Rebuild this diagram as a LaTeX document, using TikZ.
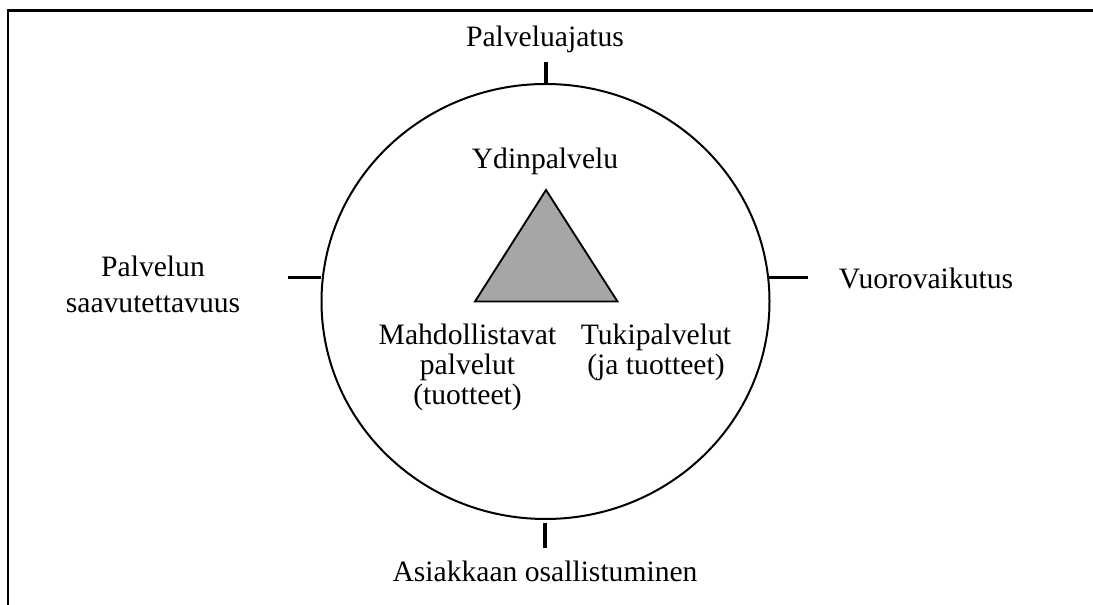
\documentclass[tikz,border=0pt]{standalone}
\usepackage{fontspec}
\usetikzlibrary{shapes.geometric}
\setmainfont{Liberation Serif}
\begin{document}
\begin{tikzpicture}[x=0.75pt,y=-0.75pt,
  lbl/.style={inner sep=0pt,anchor=base,align=center,font=\fontsize{22.2}{22.5}\selectfont},
  lblwide/.style={lbl,font=\fontsize{22.2}{27.5}\selectfont},
  tick/.style={line width=2.6pt},
  frameline/.style={line width=1.6pt}]
\useasboundingbox (0,0) rectangle (1093,605);
% frame (top and left edges)
\coordinate (fbl) at (8,605);
\coordinate (ftl) at (8,10.5);
\coordinate (ftr) at (1093,10.5);
\draw[frameline] (fbl) -- (ftl) -- (ftr);
% outer circle
\node[draw,line width=1.5pt,ellipse,minimum width=336pt,minimum height=326.25pt,inner sep=0pt] (ring) at (545.5,301.5) {};
% ticks
\coordinate (tN1) at (546,62);  \coordinate (tN2) at (546,84);
\coordinate (tS1) at (545,523); \coordinate (tS2) at (545,548);
\coordinate (tW1) at (288,277.5); \coordinate (tW2) at (321,277.5);
\coordinate (tE1) at (769,277.5); \coordinate (tE2) at (808,277.5);
\draw[tick] (tN1) -- (tN2);
\draw[tick] (tS1) -- (tS2);
\draw[tick] (tW1) -- (tW2);
\draw[tick] (tE1) -- (tE2);
% central triangle
\coordinate (apex) at (546,190);
\coordinate (bl) at (475,301.5);
\coordinate (br) at (617.5,301.5);
\filldraw[fill=black!35,draw=black,line width=1.4pt,line join=miter] (apex) -- (bl) -- (br) -- cycle;
% labels (multi-line nodes sit on the baseline of their last line)
\node[lbl] (top) at (545,46.7) {Palveluajatus};
\node[lbl] (core) at (545,168.5) {Ydinpalvelu};
\node[lbl] (right) at (926,289) {Vuorovaikutus};
\node[lblwide] (left) at (153,312.7) {Palvelun\\saavutettavuus};
\node[lbl] (enab) at (467.5,405) {Mahdollistavat\\palvelut\\(tuotteet)};
\node[lbl] (supp) at (656,375) {Tukipalvelut\\(ja tuotteet)};
\node[lbl] (bottom) at (545,581.7) {Asiakkaan osallistuminen};
\end{tikzpicture}
\end{document}
